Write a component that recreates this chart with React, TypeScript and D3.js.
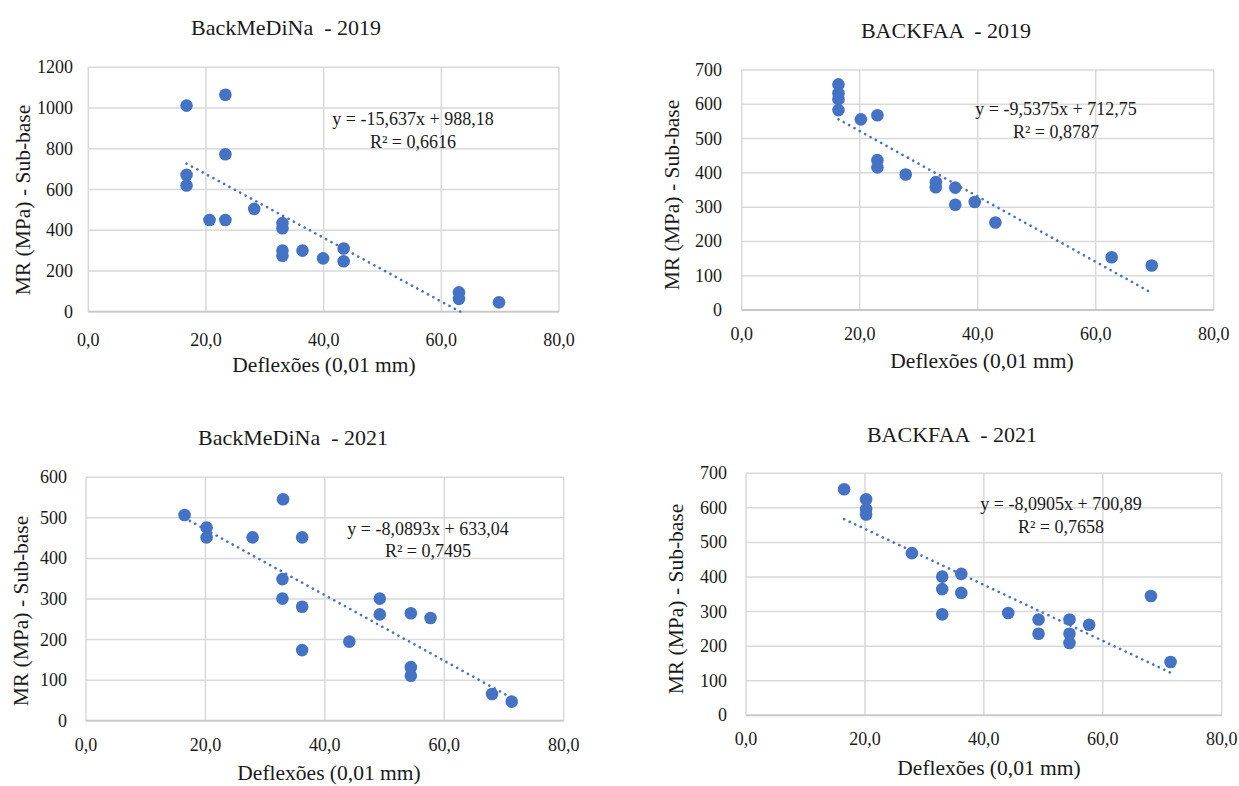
import React from "react";
import * as d3 from "d3";

// ---------- DATA ----------
const xTicks = [0, 20, 40, 60, 80];
const yTicksMedina2019 = [0, 200, 400, 600, 800, 1000, 1200];
const yTicksFaa2019 = [0, 100, 200, 300, 400, 500, 600, 700];
const yTicksMedina2021 = [0, 100, 200, 300, 400, 500, 600];
const yTicksFaa2021 = [0, 100, 200, 300, 400, 500, 600, 700];

const medina2019X = [16.7, 23.3, 23.3, 16.7, 16.7, 20.6, 23.3, 28.2, 33.0, 33.0, 33.0, 33.0, 36.4, 39.9, 43.4, 43.4, 63.0, 63.0, 69.8];
const medina2019Y = [1012, 1065, 773, 672, 620, 450, 450, 505, 435, 410, 300, 275, 300, 262, 310, 248, 95, 63, 46];

const faa2019X = [16.4, 16.4, 16.4, 16.4, 20.2, 23.0, 23.0, 23.0, 27.8, 32.9, 32.9, 36.2, 36.2, 39.5, 43.0, 62.7, 69.5];
const faa2019Y = [658, 632, 615, 583, 556, 568, 437, 416, 395, 373, 358, 357, 307, 315, 255, 154, 130];

const medina2021X = [16.5, 20.2, 20.2, 27.9, 33.0, 36.2, 32.9, 32.9, 36.2, 36.2, 44.1, 49.2, 49.2, 54.4, 57.7, 54.4, 54.4, 68.0, 71.3];
const medina2021Y = [507, 476, 452, 452, 546, 452, 349, 301, 281, 174, 195, 301, 262, 265, 253, 132, 111, 66, 47];

const faa2021X = [16.5, 20.2, 20.2, 20.2, 27.9, 33.0, 33.0, 33.0, 36.2, 36.2, 44.1, 49.2, 49.2, 54.4, 54.4, 54.4, 57.7, 68.1, 71.4];
const faa2021Y = [654, 625, 596, 581, 469, 401, 365, 292, 409, 354, 296, 277, 236, 277, 236, 209, 262, 345, 154];

const titles = ["BackMeDiNa  - 2019", "BACKFAA  - 2019", "BackMeDiNa  - 2021", "BACKFAA  - 2021"];
const equations = ["y = -15,637x + 988,18", "y = -9,5375x + 712,75", "y = -8,0893x + 633,04", "y = -8,0905x + 700,89"];
const r2Labels = ["R² = 0,6616", "R² = 0,8787", "R² = 0,7495", "R² = 0,7658"];
const slopes = [-15.637, -9.5375, -8.0893, -8.0905];
const intercepts = [988.18, 712.75, 633.04, 700.89];
const xAxisTitle = "Deflexões (0,01 mm)";
const yAxisTitle = "MR (MPa) - Sub-base";

// ---------- LAYOUT ----------
const FONT = "Liberation Serif, Times New Roman, DejaVu Serif, serif";
const BLUE = "#4472C4";
const GRID = "#d9d9d9";
const TEXT = "#1a1a1a";

type PanelCfg = {
  left: number; right: number; top: number; bottom: number;
  yMax: number; yTicks: number[];
  xs: number[]; ys: number[];
  idx: number;
  titleX: number; titleY: number;
  yTitleX: number; yTitleY: number;
  xTitleX: number; xTitleY: number;
  xLabelY: number; yLabelX: number;
  eqX: number; eqY: number; r2Y: number;
};

const panels: PanelCfg[] = [
  { left: 88.3, right: 559, top: 67.3, bottom: 311.7, yMax: 1200, yTicks: yTicksMedina2019,
    xs: medina2019X, ys: medina2019Y, idx: 0,
    titleX: 286, titleY: 35, yTitleX: 30, yTitleY: 200, xTitleX: 324, xTitleY: 372,
    xLabelY: 346, yLabelX: 73, eqX: 413, eqY: 125, r2Y: 148 },
  { left: 741.7, right: 1213.7, top: 70, bottom: 310, yMax: 700, yTicks: yTicksFaa2019,
    xs: faa2019X, ys: faa2019Y, idx: 1,
    titleX: 946, titleY: 38, yTitleX: 679, yTitleY: 195, xTitleX: 982, xTitleY: 368,
    xLabelY: 340, yLabelX: 722, eqX: 1056, eqY: 115, r2Y: 138 },
  { left: 86, right: 563.7, top: 477.3, bottom: 720.7, yMax: 600, yTicks: yTicksMedina2021,
    xs: medina2021X, ys: medina2021Y, idx: 2,
    titleX: 293, titleY: 445, yTitleX: 28, yTitleY: 611, xTitleX: 329, xTitleY: 780,
    xLabelY: 751, yLabelX: 67, eqX: 428, eqY: 535, r2Y: 557 },
  { left: 746, right: 1221.7, top: 473.3, bottom: 715.3, yMax: 700, yTicks: yTicksFaa2021,
    xs: faa2021X, ys: faa2021Y, idx: 3,
    titleX: 952, titleY: 442, yTitleX: 683, yTitleY: 599, xTitleX: 989, xTitleY: 775,
    xLabelY: 745, yLabelX: 727, eqX: 1061, eqY: 510, r2Y: 533 },
];

const fmtX = (v: number) => d3.format(".1f")(v).replace(".", ",");

const txt = (size: number): React.CSSProperties => ({ fontFamily: FONT, fontSize: size, fill: TEXT });

function Panel({ c }: { c: PanelCfg }) {
  const x = d3.scaleLinear().domain([0, 80]).range([c.left, c.right]);
  const y = d3.scaleLinear().domain([0, c.yMax]).range([c.bottom, c.top]);
  const xMin = d3.min(c.xs) as number;
  const xMax = d3.max(c.xs) as number;
  const m = slopes[c.idx];
  const b = intercepts[c.idx];
  const trendPts: [number, number][] = [xMin, xMax].map((v) => [v, m * v + b]);
  const line = d3.line<[number, number]>().x((d) => x(d[0])).y((d) => y(d[1]));
  const clipId = `clip-${c.idx}`;
  return (
    <g>
      <defs>
        <clipPath id={clipId}>
          <rect x={c.left} y={c.top} width={c.right - c.left} height={c.bottom - c.top + 1} />
        </clipPath>
      </defs>
      {c.yTicks.map((t) => (
        <line key={`gy${t}`} x1={c.left} x2={c.right} y1={y(t)} y2={y(t)} stroke={GRID} strokeWidth={1.5} />
      ))}
      {xTicks.map((t) => (
        <line key={`gx${t}`} x1={x(t)} x2={x(t)} y1={c.top} y2={c.bottom} stroke={GRID} strokeWidth={1.5} />
      ))}
      <line x1={c.left} x2={c.right} y1={c.bottom} y2={c.bottom} stroke="#c8c8c8" strokeWidth={1.8} />
      {c.yTicks.map((t) => (
        <text key={`ly${t}`} x={c.yLabelX} y={y(t) + 6} textAnchor="end" style={txt(18)}>
          {t}
        </text>
      ))}
      {xTicks.map((t) => (
        <text key={`lx${t}`} x={x(t)} y={c.xLabelY} textAnchor="middle" style={txt(18)}>
          {fmtX(t)}
        </text>
      ))}
      {c.xs.map((v, i) => (
        <circle key={`p${i}`} cx={x(v)} cy={y(c.ys[i])} r={6.3} fill={BLUE} />
      ))}
      <path d={line(trendPts) || ""} clipPath={`url(#${clipId})`} fill="none" stroke={BLUE}
        strokeWidth={2.6} strokeDasharray="0.1 6" strokeLinecap="round" />
      <text x={c.eqX} y={c.eqY} textAnchor="middle" style={txt(18)}>{equations[c.idx]}</text>
      <text x={c.eqX} y={c.r2Y} textAnchor="middle" style={txt(18)}>{r2Labels[c.idx]}</text>
      <text x={c.titleX} y={c.titleY} textAnchor="middle" style={{ ...txt(22), whiteSpace: "pre" }}>
        {titles[c.idx]}
      </text>
      <text x={c.xTitleX} y={c.xTitleY} textAnchor="middle" style={txt(21.5)}>{xAxisTitle}</text>
      <text transform={`translate(${c.yTitleX},${c.yTitleY}) rotate(-90)`} textAnchor="middle" style={txt(21.5)}>
        {yAxisTitle}
      </text>
    </g>
  );
}

export default function App() {
  return (
    <svg width={1239} height={786} style={{ position: "absolute", left: 0, top: 0, background: "#fff" }}>
      <rect x={0} y={0} width={1239} height={786} fill="#fff" />
      {panels.map((c) => (
        <Panel key={c.idx} c={c} />
      ))}
    </svg>
  );
}
